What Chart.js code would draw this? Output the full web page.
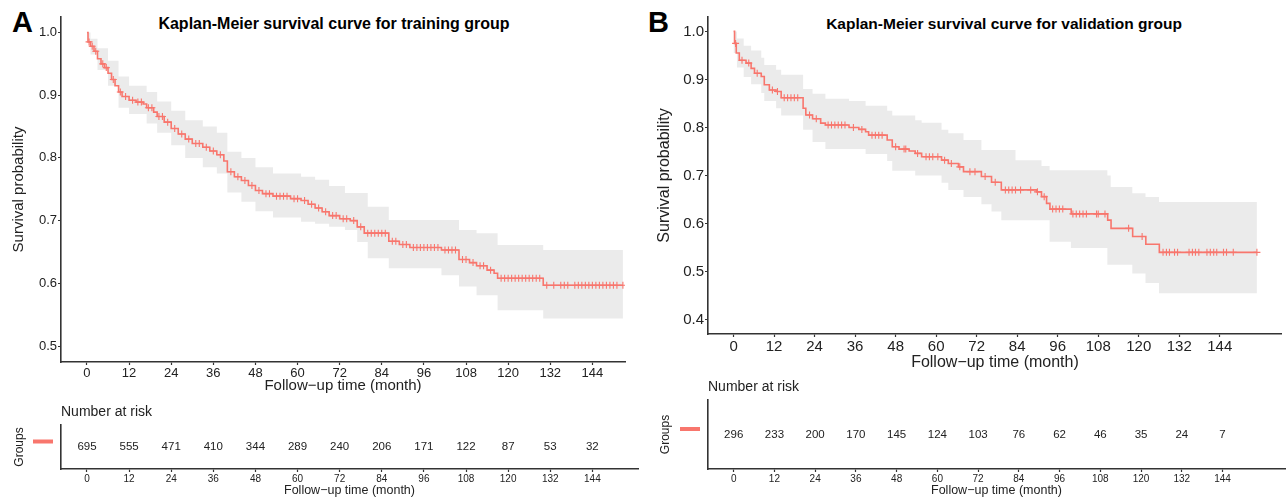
<!DOCTYPE html>
<html>
<head>
<meta charset="utf-8">
<script src="https://cdn.jsdelivr.net/npm/chart.js@4.4.1/dist/chart.umd.min.js"></script>
<style>
  body { margin: 0; width: 1287px; height: 498px; overflow: hidden; background: #fff; position: relative;
         font-family: "Liberation Sans", Arial, sans-serif; }
  canvas { position: absolute; }
  .letter { position: absolute; font-weight: bold; font-size: 29px; line-height: 29px; color: #000; }
  .title { position: absolute; font-weight: bold; line-height: 16px; width: 500px;
           text-align: center; color: #000; white-space: nowrap; }
</style>
</head>
<body>
<div class="letter" style="left:12px;top:8px">A</div>
<div class="letter" style="left:648px;top:8px">B</div>
<div class="title" style="left:84px;top:16px;font-size:16px">Kaplan-Meier survival curve for training group</div>
<div class="title" style="left:754px;top:16px;font-size:15.5px">Kaplan-Meier survival curve for validation group</div>
<canvas id="kmA" width="640" height="395" style="left:0;top:0"></canvas>
<canvas id="riskA" width="640" height="100" style="left:0;top:398px"></canvas>
<canvas id="kmB" width="647" height="372" style="left:640px;top:0"></canvas>
<canvas id="riskB" width="647" height="126" style="left:640px;top:372px"></canvas>
<script>
Chart.defaults.font.family = '"Liberation Sans", Arial, sans-serif';
const RED = "#F8766D";
const BAND = "#EBEBEB";
const AX = "#333333";
const TXT = "#222222";

// ---- training group (A) ----
const timesA = [0,0.3,1,2,3,4,5,6,7,8,9,10,12,14,16,17,19,20,22,24,26,28,30,33,35,37,39,40,42,44,
  46,48,50,53,58,61,63,65,67,69,72,75,77,79,86,89,92,101,106,109,111,114,116,117,130,152.7];
const survA = [1.0,0.985,0.978,0.970,0.958,0.950,0.944,0.935,0.925,0.915,0.905,0.898,0.892,0.889,0.886,
  0.880,0.873,0.866,0.857,0.847,0.838,0.830,0.823,0.817,0.811,0.805,0.795,0.778,0.770,0.764,
  0.756,0.748,0.743,0.739,0.735,0.732,0.726,0.720,0.714,0.708,0.703,0.700,0.690,0.680,0.667,
  0.662,0.657,0.653,0.638,0.633,0.628,0.621,0.616,0.608,0.597,0.597];
const bandTimesA = [0,1,3,6,9,12,17,20,24,28,33,37,40,44,48,53,61,65,69,73.5,77,80,86,101,106,111,117,130,152.7];
const upperA = [1.0,0.99,0.975,0.955,0.93,0.915,0.905,0.89,0.875,0.86,0.85,0.84,0.81,0.80,0.785,0.775,
  0.77,0.765,0.755,0.744,0.744,0.722,0.701,0.701,0.685,0.68,0.661,0.653,0.653];
const lowerA = [0.985,0.965,0.94,0.915,0.88,0.87,0.855,0.84,0.82,0.80,0.785,0.775,0.745,0.73,0.715,0.705,
  0.698,0.695,0.69,0.685,0.666,0.64,0.624,0.613,0.595,0.581,0.557,0.544,0.544];
const censorA = [0.6,1.5,2.5,4.5,5.5,7.5,9.5,11,13,14.5,15.5,17.5,18.5,20.5,21.5,23,25,27,29,31,32,34,36,38,
  41,43,45,47,49,51,52,54,55,56,57,59,60,62,64,66,68,70,71,73,74,76,78,80,81,82,83,84,85,87,88,90,91,
  93,94,95,96,97,98,99,100,102,103,104,105,107,108,110,112,113,115,118,119,120,121,122,123,124,125,126,
  127,128,129,131,133,135,136,137,139,140,141,142,143,144,145,146,147,148,149,150,151,152.7];
const riskA = [695,555,471,410,344,289,240,206,171,122,87,53,32];

// ---- validation group (B) ----
const timesB = [0,0.3,0.8,1.7,3.7,5.2,6.2,8.2,9.1,10.6,12.6,14.1,20.6,21.4,23.4,25.8,27.2,34.2,37.1,39.1,
  40,45.5,47,49,52,53.8,55.7,61.6,63.6,66.6,68.1,73.4,76.4,79.3,89.7,91.2,92.7,93.7,100,110.8,
  111.8,118.2,122.1,126.1,155];
const survB = [1.0,0.975,0.955,0.94,0.934,0.923,0.913,0.906,0.889,0.878,0.875,0.862,0.84,0.826,0.818,0.809,
  0.805,0.80,0.796,0.791,0.784,0.774,0.760,0.755,0.751,0.746,0.739,0.732,0.725,0.718,0.708,0.698,
  0.686,0.670,0.666,0.656,0.642,0.630,0.620,0.607,0.590,0.573,0.557,0.540,0.540];
const bandTimesB = [0,1,3,5.2,8.2,9.1,12.6,14.1,20.6,23.4,27.2,34.2,39.1,45.5,47,53.8,55.7,61.6,63.6,68.1,
  73.4,76.4,79.3,83.5,91.2,93.6,99.9,110.7,111.7,118.1,122,126,155];
const upperB = [1.0,0.985,0.97,0.96,0.945,0.93,0.92,0.91,0.88,0.87,0.86,0.855,0.845,0.835,0.825,0.815,0.81,
  0.795,0.788,0.774,0.753,0.753,0.753,0.732,0.72,0.711,0.711,0.70,0.676,0.663,0.655,0.645,0.645];
const lowerB = [0.955,0.925,0.905,0.89,0.872,0.855,0.84,0.825,0.795,0.77,0.755,0.755,0.745,0.73,0.71,0.70,
  0.70,0.685,0.67,0.655,0.64,0.625,0.607,0.607,0.607,0.562,0.549,0.514,0.514,0.496,0.476,0.455,0.455];
const censorB = [0.6,2.5,4.5,7,11.5,13,15,16,17,18,19,22.5,24.5,28,29,30,31,32,33,35.5,38,41,42,43,44,48,
  50.5,51,54.5,57,58,59,60.5,62.5,64.5,67,70,71.5,74.5,77.5,80.5,81.5,82.5,83.5,85,88,90,92,94.5,95.5,
  96.5,97.5,100.5,101.5,102.5,103.5,104.5,107.5,108,110,117,121,127.2,128.2,129.1,130.6,131.5,134.9,
  135.9,136.8,137.8,140.2,141.2,142.2,143.1,145.1,146,148,155];
const riskB = [296,233,200,170,145,124,103,76,62,46,35,24,7];

const xTicks = [0,12,24,36,48,60,72,84,96,108,120,132,144];
const yTicksA = [0.5,0.6,0.7,0.8,0.9,1.0];
const yTicksB = [0.4,0.5,0.6,0.7,0.8,0.9,1.0];

function stepValue(times, surv, t) {
  let v = surv[0];
  for (let i = 0; i < times.length; i++) if (times[i] <= t) v = surv[i];
  return v;
}
const pts = (xs, ys) => xs.map((x, i) => ({x: x, y: ys[i]}));

function axis(o) {
  return {
    type: "linear", min: o.min, max: o.max,
    afterBuildTicks: s => { s.ticks = o.ticks.map(v => ({value: v})); },
    afterFit: s => { if (o.width != null) s.width = o.width; if (o.height != null) s.height = o.height; },
    ticks: { display: o.tickFont > 0, font: {size: o.tickFont}, color: TXT, padding: 1, maxRotation: 0,
             autoSkip: false, callback: o.fmt },
    grid: { drawOnChartArea: false, drawTicks: o.drawTicks !== false, tickLength: 3, color: AX, tickWidth: 1.2 },
    border: { display: true, color: AX, width: 1.6 },
    title: { display: true, text: o.title, color: TXT, font: {size: o.titleFont},
             padding: {top: o.titlePad || 0, bottom: o.titlePad || 0} }
  };
}

function kmChart(id, d) {
  const marks = d.censor.map(t => ({x: t, y: stepValue(d.times, d.surv, t)}));
  new Chart(document.getElementById(id), {
    type: "line",
    data: { datasets: [
      { data: pts(d.bandTimes, d.upper), stepped: "before", borderWidth: 0, borderColor: "transparent",
        pointRadius: 0, fill: "+1", backgroundColor: BAND, order: 4 },
      { data: pts(d.bandTimes, d.lower), stepped: "before", borderWidth: 0, borderColor: "transparent",
        pointRadius: 0, fill: false, order: 3 },
      { data: pts(d.times, d.surv), stepped: "before", borderColor: RED, borderWidth: 1.6,
        pointRadius: 0, fill: false, order: 2 },
      { data: marks, showLine: false, pointStyle: "cross", pointRadius: 3.5, pointBorderColor: RED,
        pointBackgroundColor: RED, pointBorderWidth: 1.1, fill: false, order: 1 }
    ]},
    options: {
      responsive: false, animation: false, events: [],
      layout: { padding: { top: d.top, right: d.right, left: 0, bottom: 0 } },
      plugins: { legend: {display: false}, tooltip: {enabled: false} },
      scales: {
        x: axis({min: d.xmin, max: d.xmax, ticks: xTicks, height: d.xh, tickFont: d.tickFont,
                 title: "Follow\u2212up time (month)", titleFont: d.titleFont, titlePad: 0}),
        y: axis({min: d.ymin, max: d.ymax, ticks: d.yTicks, width: d.yw, tickFont: d.tickFont,
                 fmt: v => v.toFixed(1), title: "Survival probability", titleFont: d.titleFont,
                 titlePad: d.yTitlePad})
      }
    }
  });
}

const riskText = {
  id: "riskText",
  afterDraw(chart, args, opt) {
    const {ctx, chartArea, scales} = chart;
    const yRow = scales.y.getPixelForValue(0.5);
    ctx.save();
    ctx.fillStyle = TXT;
    ctx.font = '14px "Liberation Sans", Arial, sans-serif';
    ctx.textAlign = "left";
    ctx.textBaseline = "middle";
    ctx.fillText("Number at risk", chartArea.left, chartArea.top - 13);
    ctx.font = '11.5px "Liberation Sans", Arial, sans-serif';
    ctx.textAlign = "center";
    opt.counts.forEach((n, i) => ctx.fillText(String(n), scales.x.getPixelForValue(xTicks[i]), yRow));
    ctx.strokeStyle = RED;
    ctx.lineWidth = 4;
    ctx.beginPath();
    ctx.moveTo(chartArea.left - 28, yRow - 5.5);
    ctx.lineTo(chartArea.left - 8, yRow - 5.5);
    ctx.stroke();
    ctx.restore();
  }
};

function riskChart(id, d) {
  new Chart(document.getElementById(id), {
    type: "scatter",
    data: { datasets: [{ data: [] }] },
    options: {
      responsive: false, animation: false, events: [],
      layout: { padding: { top: d.top, right: d.right, left: 0, bottom: 0 } },
      plugins: { legend: {display: false}, tooltip: {enabled: false}, riskText: { counts: d.counts } },
      scales: {
        x: axis({min: d.xmin, max: d.xmax, ticks: xTicks, height: 29, tickFont: 10,
                 title: "Follow\u2212up time (month)", titleFont: 12.5, titlePad: 0}),
        y: axis({min: 0, max: 1, ticks: [0.5], width: d.yw, tickFont: 0, drawTicks: false,
                 title: "Groups", titleFont: 12, titlePad: d.yTitlePad})
      }
    },
    plugins: [riskText]
  });
}

kmChart("kmA", { times: timesA, surv: survA, bandTimes: bandTimesA, upper: upperA, lower: lowerA,
  censor: censorA, xmin: -7.4, xmax: 153.3, ymin: 0.4745, ymax: 1.0247, yTicks: yTicksA,
  top: 17, right: 15, xh: 33, yw: 61, tickFont: 13, titleFont: 15, yTitlePad: 10 });
riskChart("riskA", { counts: riskA, xmin: -7.4, xmax: 157, top: 27, right: 2, yw: 61, yTitlePad: 12 });

kmChart("kmB", { times: timesB, surv: survB, bandTimes: bandTimesB, upper: upperB, lower: lowerB,
  censor: censorB, xmin: -7.57, xmax: 162.4, ymin: 0.37, ymax: 1.03, yTicks: yTicksB,
  top: 17, right: 2, xh: 38, yw: 68, tickFont: 15, titleFont: 16, yTitlePad: 15 });
riskChart("riskB", { counts: riskB, xmin: -7.57, xmax: 162.4, top: 28, right: 2, yw: 68, yTitlePad: 18 });
</script>
</body>
</html>
